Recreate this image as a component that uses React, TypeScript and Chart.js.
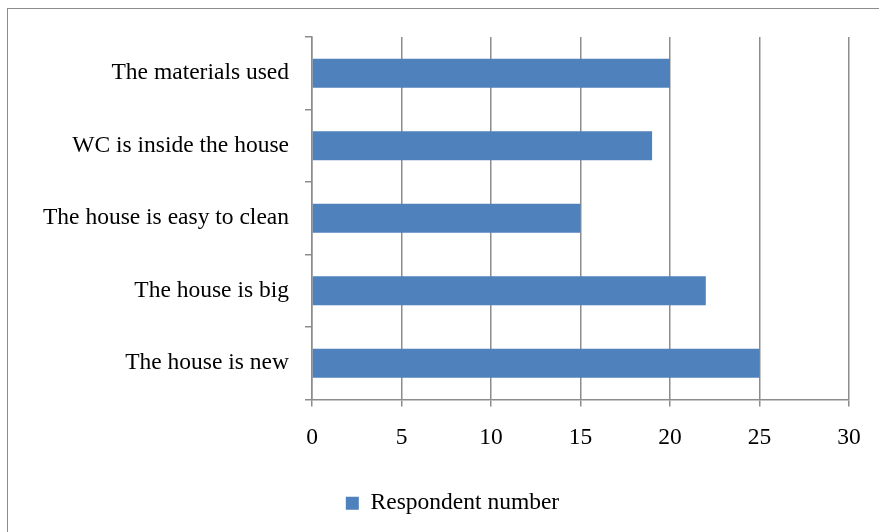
import React, { useEffect, useRef } from "react";
import { Chart, registerables } from "chart.js";

Chart.register(...registerables);

const categories = [
  "The materials used",
  "WC is inside the house",
  "The house is easy to clean",
  "The house is big",
  "The house is new",
];
const respondentNumber = [20, 19, 15, 22, 25];
const seriesLabel = "Respondent number";
const xMin = 0;
const xMax = 30;
const xStep = 5;

const FONT = "'Liberation Serif', 'Times New Roman', serif";
const FS = 23.5;
const GRID = "#8c8c8c";
const LEGEND_SHIFT = 23;

const legendShift = {
  id: "legendShift",
  afterLayout(chart: any) {
    const lg = chart.legend;
    if (lg) {
      lg.left += LEGEND_SHIFT;
      lg.right += LEGEND_SHIFT;
    }
  },
};

export default function App() {
  const ref = useRef<HTMLCanvasElement | null>(null);

  useEffect(() => {
    if (!ref.current) return;
    const chart = new Chart(ref.current, {
      type: "bar",
      data: {
        labels: categories,
        datasets: [
          {
            label: seriesLabel,
            data: respondentNumber,
            backgroundColor: "#4F81BD",
            borderWidth: 0,
            categoryPercentage: 1,
            barPercentage: 0.4,
          },
        ],
      },
      plugins: [legendShift],
      options: {
        indexAxis: "y",
        animation: false,
        responsive: false,
        maintainAspectRatio: false,
        layout: { padding: { left: 10, top: 37, right: 30, bottom: 7 } },
        plugins: {
          legend: {
            position: "bottom",
            labels: {
              boxWidth: 13,
              boxHeight: 13,
              color: "#000",
              font: { family: FONT, size: FS },
              padding: 10,
            },
          },
          tooltip: { enabled: false },
        },
        scales: {
          x: {
            min: xMin,
            max: xMax,
            ticks: {
              stepSize: xStep,
              color: "#000",
              font: { family: FONT, size: FS },
              padding: 17,
            },
            grid: {
              color: GRID,
              lineWidth: 1.5,
              drawTicks: true,
              tickLength: 7,
            },
            border: { color: GRID, width: 1.5 },
            afterFit: (s: any) => {
              s.height = 82;
            },
          },
          y: {
            ticks: {
              color: "#000",
              font: { family: FONT, size: FS },
              padding: 16,
            },
            grid: {
              display: true,
              drawOnChartArea: false,
              drawTicks: true,
              tickLength: 7,
              color: GRID,
              lineWidth: 1.5,
              offset: true,
            },
            border: { color: GRID, width: 1.5 },
            afterFit: (s: any) => {
              s.width = 302;
            },
          },
        },
      },
    });
    return () => chart.destroy();
  }, []);

  return (
    <div
      style={{
        position: "fixed",
        left: 0,
        top: 0,
        width: 879,
        height: 532,
        overflow: "hidden",
        background: "#fff",
      }}
    >
      <div
        style={{
          position: "absolute",
          left: 4,
          top: -21,
          fontFamily: FONT,
          fontSize: FS,
          color: "#000",
          whiteSpace: "nowrap",
        }}
      >
        with modern materials.
      </div>
      <div
        style={{
          position: "absolute",
          left: 7,
          top: 8,
          width: 900,
          height: 600,
          border: `1.5px solid ${GRID}`,
          boxSizing: "border-box",
        }}
      />
      <canvas
        ref={ref}
        width={879}
        height={532}
        style={{ position: "absolute", left: 0, top: 0, width: 879, height: 532 }}
      />
    </div>
  );
}
